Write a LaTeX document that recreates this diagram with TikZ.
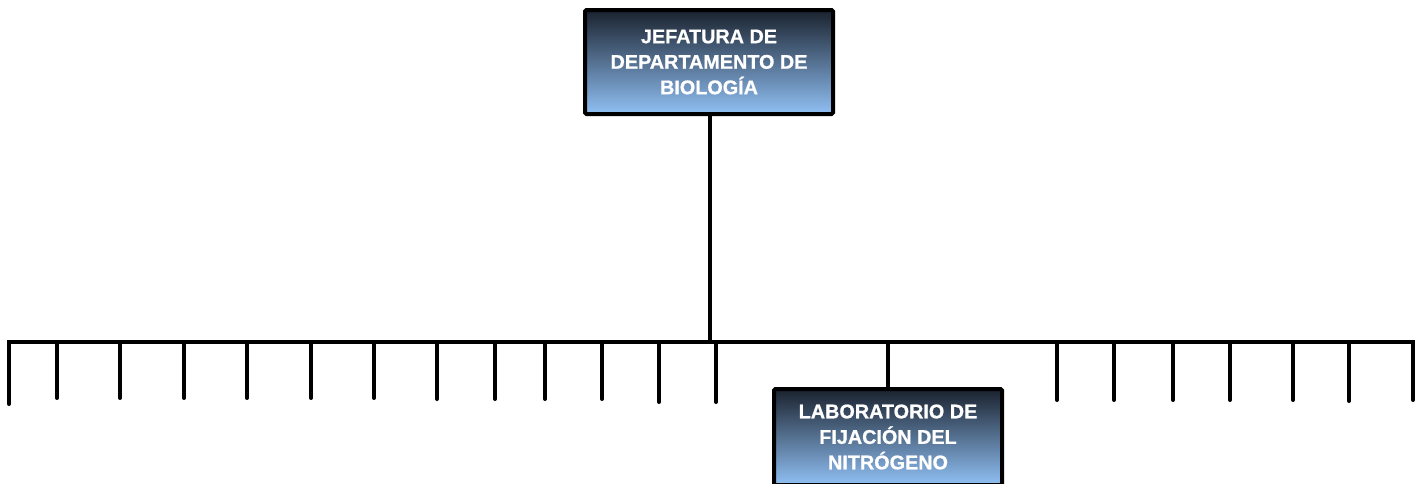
\documentclass[tikz,border=0pt]{standalone}
\usepackage{fontspec}
\setmainfont{Liberation Sans}
\newfontfamily\boxfont[FakeBold=0.8]{Liberation Sans Bold}
\begin{document}
\begin{tikzpicture}[x=1pt,y=-1pt,
  orgbox/.style={draw=black,line width=4pt,rounded corners=1.5pt,
    top color={rgb,255:red,26;green,34;blue,46},
    bottom color={rgb,255:red,144;green,192;blue,244},
    text=white,align=center,inner sep=0pt,
    font=\boxfont\fontsize{19.8}{25.5}\selectfont},
  wire/.style={line width=4pt,black},
  tick/.style={line width=4pt,black,line cap=round}]
\useasboundingbox (0,0) rectangle (1421,483);
\node[orgbox,minimum width=248pt,minimum height=104pt] (jefe) at (709,62)
  {JEFATURA DE\\DEPARTAMENTO DE\\BIOLOGÍA};
\node[orgbox,minimum width=228pt,minimum height=96pt] (lab) at (888,437)
  {LABORATORIO DE\\FIJACIÓN DEL\\NITRÓGENO};
\coordinate (busL) at (9,342);
\coordinate (busR) at (1413,342);
\coordinate (busJ) at (710,342);
\coordinate (busLab) at (888,342);
\coordinate (endL) at (9,404);
\coordinate (endR) at (1413,400);
\draw[wire,line cap=round] (endL) -- (busL) -- (busR) -- (endR);
\draw[wire] (jefe.south -| busJ) -- (busJ);
\draw[wire] (busLab) -- (lab.north);
\foreach \x/\e [count=\i] in {57/398,120/398,184/398,247/398,311/398,374/398,
  437/399,495/399,545/399,602/399,659/402,716/402,
  1057/400,1114/400,1173/400,1230/400,1293/400,1349/401}{
  \coordinate (t\i) at (\x,342);
  \coordinate (e\i) at (\x,\e);
  \draw[tick] (t\i) -- (e\i);
}
\end{tikzpicture}
\end{document}
